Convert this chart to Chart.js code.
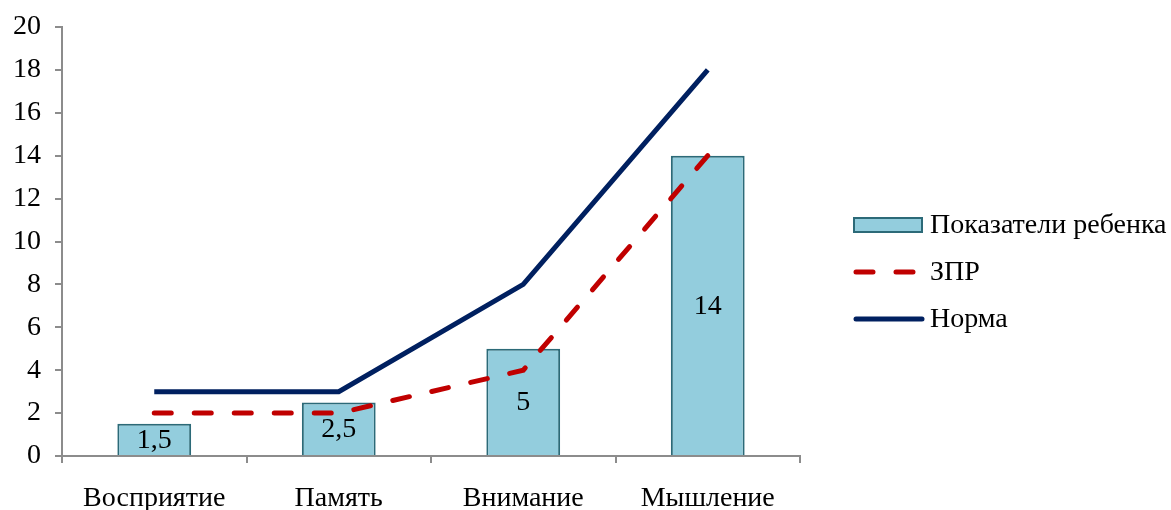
<!DOCTYPE html>
<html>
<head>
<meta charset="utf-8">
<script src="https://cdn.jsdelivr.net/npm/chart.js@4.4.1/dist/chart.umd.min.js"></script>
<style>
  html, body { margin: 0; padding: 0; background: #ffffff; }
  #wrap { width: 1171px; height: 510px; position: relative; }
</style>
</head>
<body>
<div id="wrap"><canvas id="chart" width="1171" height="510"></canvas></div>
<script>
const categories = ['Восприятие', 'Память', 'Внимание', 'Мышление'];
const childValues = [1.5, 2.5, 5, 14];
const zprValues = [2, 2, 4, 14];
const normValues = [3, 3, 8, 18];
const yTicks = [0, 2, 4, 6, 8, 10, 12, 14, 16, 18, 20];

const FONT = '"Liberation Serif", "Times New Roman", serif';
const FONT_SIZE = 28;
const AXIS_GREY = '#8c8c8c';

// Value labels centred inside each bar, written with a decimal comma
const barLabels = {
  id: 'barLabels',
  afterDatasetsDraw(chart) {
    const ctx = chart.ctx;
    const meta = chart.getDatasetMeta(0);
    ctx.save();
    ctx.font = FONT_SIZE + 'px ' + FONT;
    ctx.fillStyle = '#000';
    ctx.textAlign = 'center';
    ctx.textBaseline = 'middle';
    meta.data.forEach((bar, i) => {
      const v = chart.data.datasets[0].data[i];
      const y = (bar.y + bar.base) / 2;
      ctx.fillText(String(v).replace('.', ','), bar.x, y + 1);
    });
    ctx.restore();
  }
};

// Legend on the right side, one row per dataset
const sideLegend = {
  id: 'sideLegend',
  afterDraw(chart) {
    const ctx = chart.ctx;
    const ds = chart.data.datasets;
    const rows = [225, 272, 319];
    const x0 = 854, x1 = 922, tx = 930;
    ctx.save();
    ctx.font = FONT_SIZE + 'px ' + FONT;
    ctx.textBaseline = 'middle';
    ds.forEach((d, i) => {
      const y = rows[i];
      if (d.type === 'bar') {
        ctx.fillStyle = d.backgroundColor;
        ctx.fillRect(x0, y - 7, x1 - x0, 14);
        ctx.strokeStyle = d.borderColor;
        ctx.lineWidth = 2;
        ctx.strokeRect(x0, y - 7, x1 - x0, 14);
      } else {
        ctx.strokeStyle = d.borderColor;
        ctx.lineWidth = d.borderWidth;
        ctx.lineCap = 'round';
        ctx.setLineDash(d.borderDash || []);
        ctx.beginPath();
        ctx.moveTo(x0 + 2, y);
        ctx.lineTo(x1, y);
        ctx.stroke();
        ctx.setLineDash([]);
      }
      ctx.fillStyle = '#000';
      ctx.fillText(d.label, tx, y + 1);
    });
    ctx.restore();
  }
};

new Chart(document.getElementById('chart'), {
  data: {
    labels: categories,
    datasets: [
      {
        type: 'bar',
        label: 'Показатели ребенка',
        data: childValues,
        backgroundColor: '#93CDDD',
        borderColor: '#2C6A78',
        borderWidth: 2,
        barPercentage: 1,
        categoryPercentage: 0.4,
        order: 3
      },
      {
        type: 'line',
        label: 'ЗПР',
        data: zprValues,
        borderColor: '#C00000',
        borderWidth: 5,
        borderDash: [17, 23],
        borderCapStyle: 'round',
        pointRadius: 0,
        tension: 0,
        fill: false,
        order: 1
      },
      {
        type: 'line',
        label: 'Норма',
        data: normValues,
        borderColor: '#002060',
        borderWidth: 5,
        pointRadius: 0,
        tension: 0,
        fill: false,
        order: 2
      }
    ]
  },
  options: {
    responsive: false,
    animation: false,
    layout: { padding: { top: 27, right: 371, left: 0, bottom: 0 } },
    plugins: {
      legend: { display: false },
      tooltip: { enabled: false }
    },
    scales: {
      x: {
        offset: true,
        grid: {
          offset: true,
          drawOnChartArea: false,
          drawTicks: true,
          tickLength: 7,
          color: AXIS_GREY,
          lineWidth: 2
        },
        border: { color: AXIS_GREY, width: 2 },
        ticks: { font: { family: FONT, size: FONT_SIZE }, color: '#000', padding: 19 },
        afterFit(scale) {
          scale.height = 54;
          scale.paddingLeft = 0;
          scale.paddingRight = 0;
        }
      },
      y: {
        min: 0,
        max: 20,
        afterBuildTicks(scale) { scale.ticks = yTicks.map(v => ({ value: v })); },
        grid: {
          drawOnChartArea: false,
          drawTicks: true,
          tickLength: 7,
          color: AXIS_GREY,
          lineWidth: 2
        },
        border: { color: AXIS_GREY, width: 2 },
        ticks: { font: { family: FONT, size: FONT_SIZE }, color: '#000', padding: 14 },
        afterFit(scale) {
          scale.width = 62;
          scale.paddingTop = 0;
          scale.paddingBottom = 0;
        }
      }
    }
  },
  plugins: [barLabels, sideLegend]
});
</script>
</body>
</html>
